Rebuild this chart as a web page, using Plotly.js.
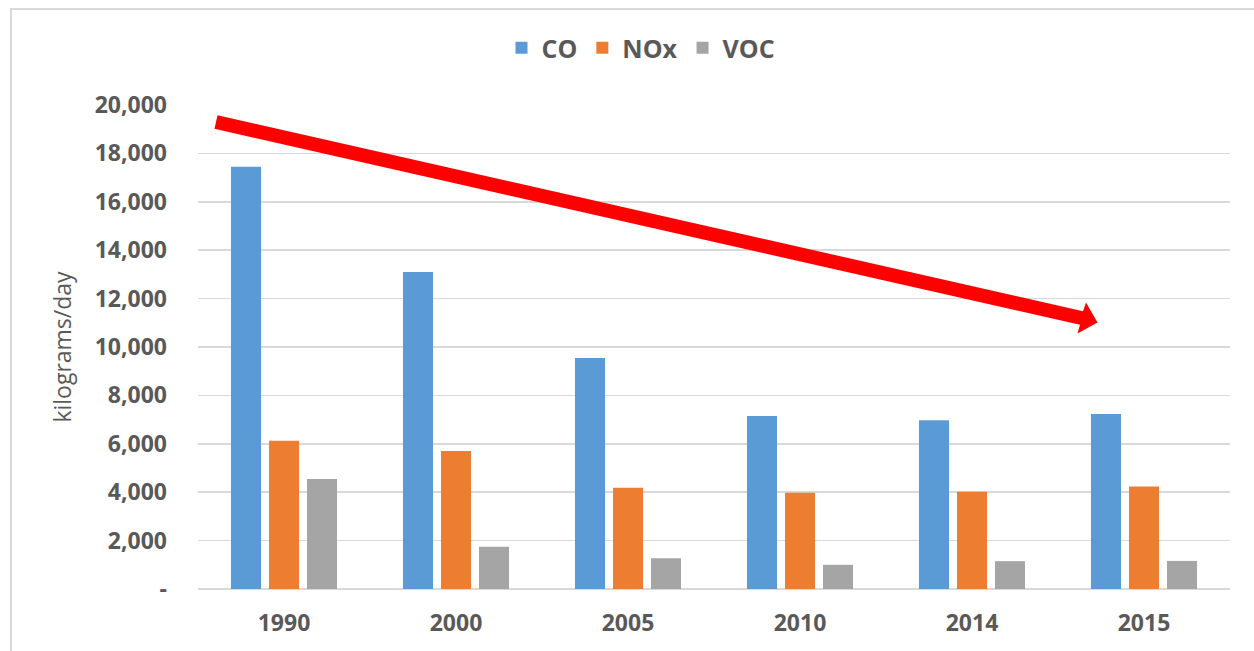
<!DOCTYPE html>
<html>
<head>
<meta charset="utf-8">
<script src="https://cdn.plot.ly/plotly-3.0.1.min.js"></script>
<style>
  html, body { margin: 0; padding: 0; background: #ffffff; }
  #chart { width: 1254px; height: 651px; }
</style>
</head>
<body>
<div id="chart"></div>
<script>
// ---- data ----
const years = ["1990", "2000", "2005", "2010", "2014", "2015"];
const coValues = [17450, 13100, 9550, 7150, 6970, 7230];
const noxValues = [6130, 5700, 4180, 3980, 4020, 4240];
const vocValues = [4550, 1750, 1270, 1000, 1150, 1160];
const seriesNames = ["CO", "NOx", "VOC"];
const yTickVals = [0, 2000, 4000, 6000, 8000, 10000, 12000, 14000, 16000, 18000, 20000];
const yTickText = ["-", "2,000", "4,000", "6,000", "8,000", "10,000", "12,000", "14,000", "16,000", "18,000", "20,000"];
const yTitle = "kilograms/day";

// ---- layout geometry (pixels) ----
const W = 1254, H = 651;
const M = { l: 198, r: 24, t: 105, b: 62 };
const PW = W - M.l - M.r, PH = H - M.t - M.b;
function px(x) { return (x - M.l) / PW; }
function py(y) { return (H - M.b - y) / PH; }

// decorative trend arrow (pixel outline -> paper coords)
const arrowPts = [
  [217.5, 115.2], [1083, 311.2], [1086, 302.5], [1097.5, 322.5],
  [1077.5, 333.5], [1080, 324.8], [214.5, 128.8]
];
const arrowPath = arrowPts.map((p, i) => (i ? "L" : "M") + px(p[0]).toFixed(5) + "," + py(p[1]).toFixed(5)).join(" ") + " Z";

const colors = ["#5b9bd5", "#ed7d31", "#a5a5a5"];
const valueSets = [coValues, noxValues, vocValues];
const traces = seriesNames.map((name, i) => ({
  type: "bar",
  name: name,
  x: years,
  y: valueSets[i],
  marker: { color: colors[i], line: { width: 0 } },
  hoverinfo: "x+y+name"
}));

const font = "'Open Sans', 'DejaVu Sans', sans-serif";
const layout = {
  width: W, height: H,
  margin: M,
  paper_bgcolor: "#ffffff",
  plot_bgcolor: "#ffffff",
  barmode: "group",
  bargap: 0.337,
  bargroupgap: 0.21,
  showlegend: true,
  legend: {
    orientation: "h",
    x: px(641), xanchor: "center",
    y: py(48), yanchor: "middle",
    font: { family: font, size: 25, color: "#595959", weight: "bold" },
    itemwidth: 30,
    tracegroupgap: 0
  },
  xaxis: {
    type: "category",
    showgrid: false,
    zeroline: false,
    showline: false,
    ticks: "",
    ticklabelstandoff: 18,
    tickfont: { family: font, size: 23, color: "#595959", weight: "bold" }
  },
  yaxis: {
    range: [0, 20000],
    tickvals: yTickVals,
    ticktext: yTickText,
    showgrid: true,
    gridcolor: "#d9d9d9",
    gridwidth: 1.5,
    zeroline: true,
    zerolinecolor: "#d9d9d9",
    zerolinewidth: 2,
    showline: false,
    ticks: "",
    ticklabelstandoff: 30,
    tickfont: { family: font, size: 23, color: "#595959", weight: "bold" },
    title: { text: yTitle, font: { family: font, size: 23, color: "#595959" }, standoff: 16 }
  },
  shapes: [
    {
      type: "rect", xref: "paper", yref: "paper", layer: "below",
      x0: px(11), x1: px(1262), y0: py(662), y1: py(9),
      line: { color: "#d9d9d9", width: 2 }, fillcolor: "rgba(0,0,0,0)"
    },
    {
      type: "path", xref: "paper", yref: "paper", layer: "above",
      path: arrowPath,
      fillcolor: "#ff0000", line: { width: 0 }
    }
  ]
};

Plotly.newPlot("chart", traces, layout, { displayModeBar: false, staticPlot: true });
</script>
</body>
</html>
